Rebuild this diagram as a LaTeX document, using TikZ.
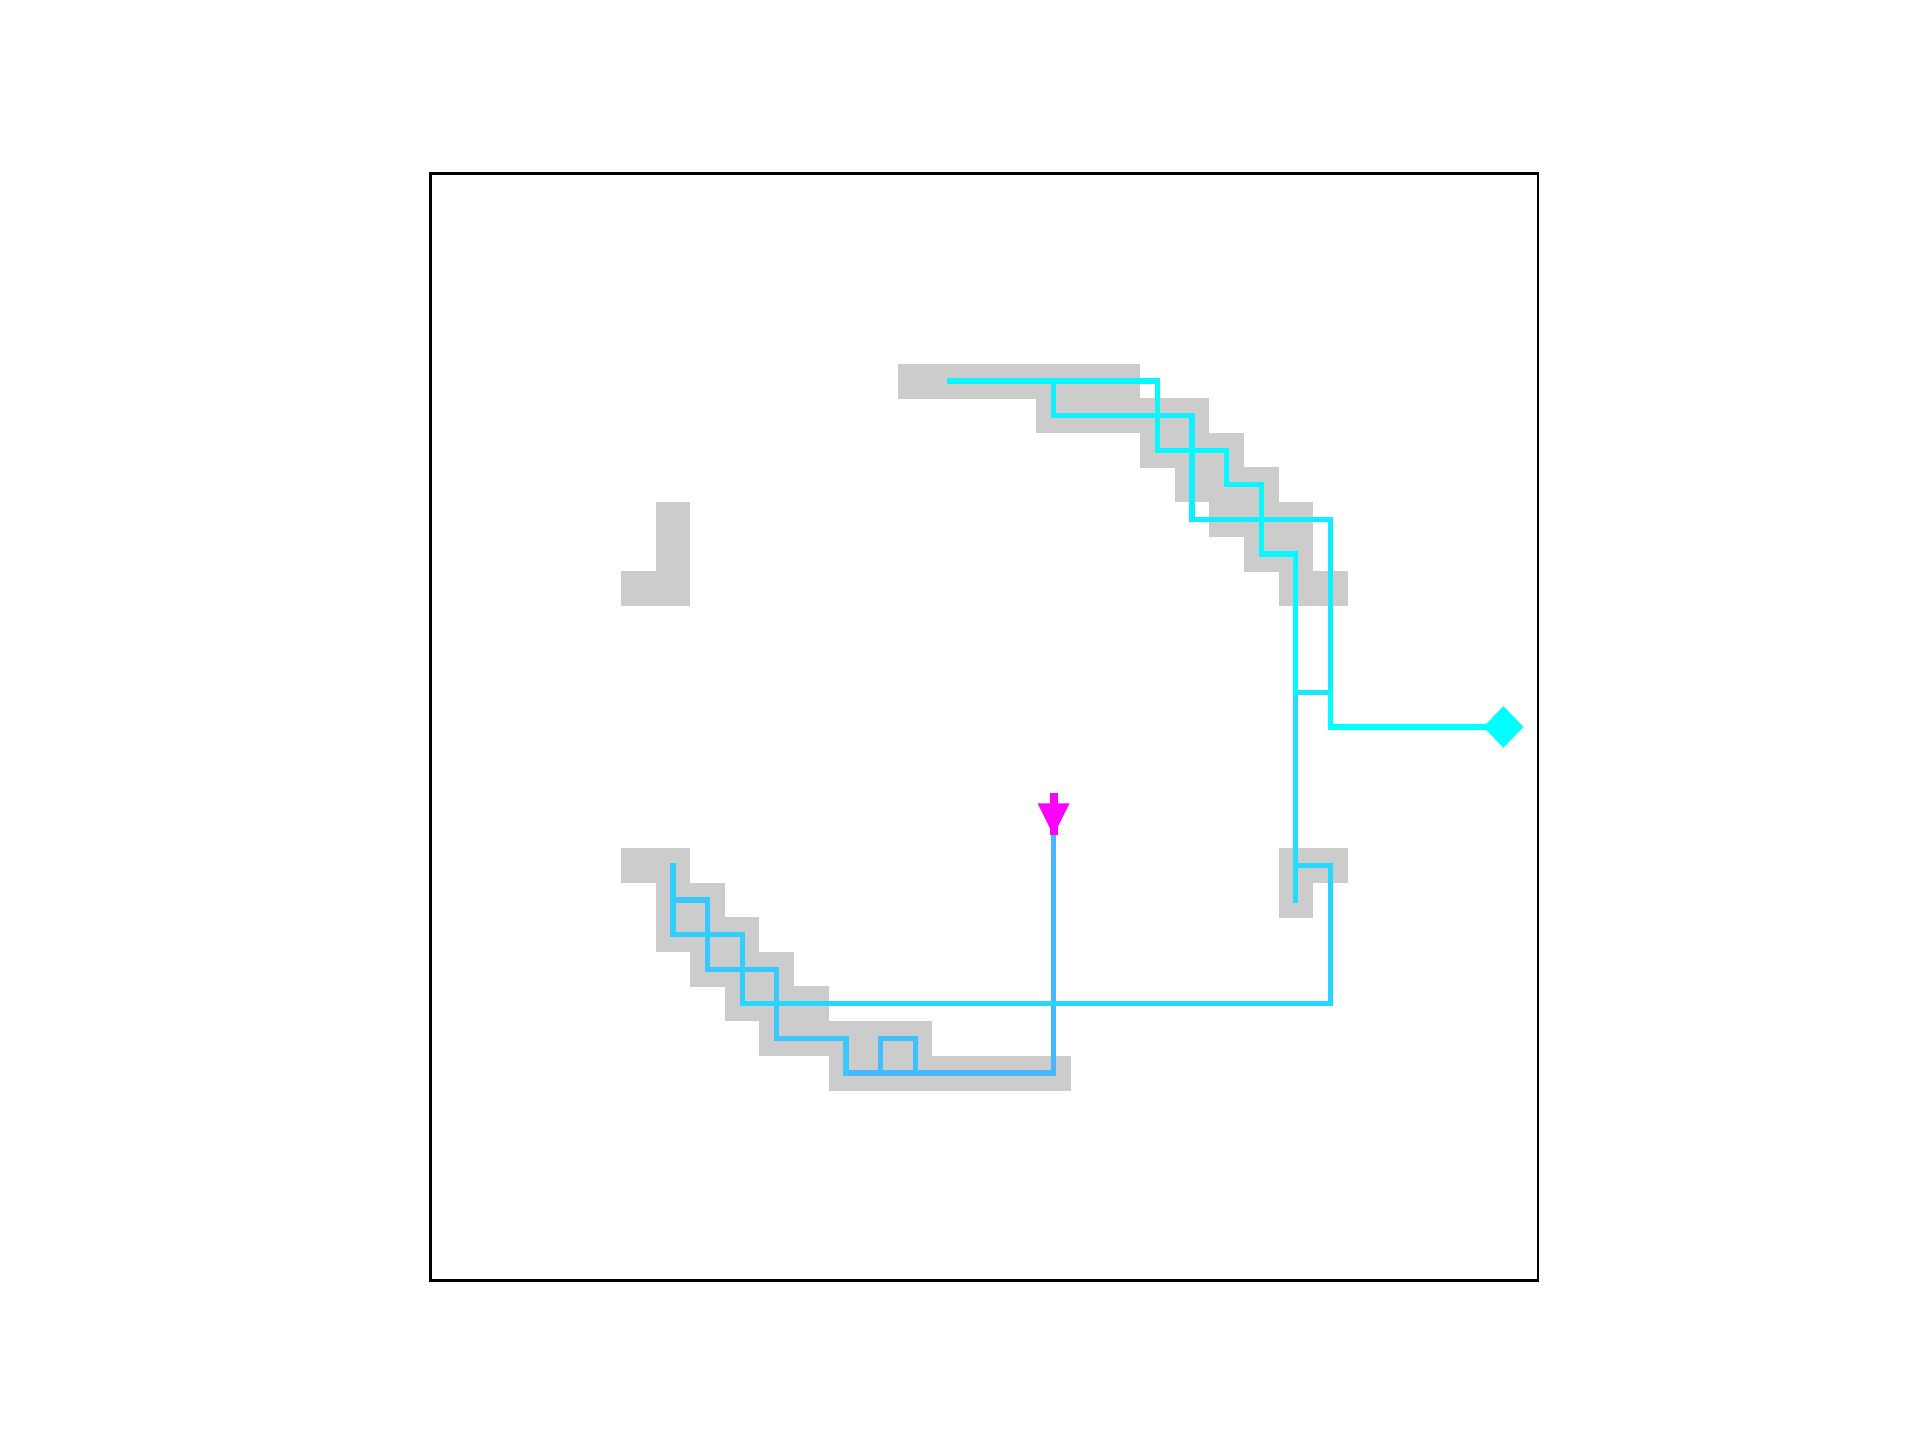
\documentclass[tikz,border=0pt]{standalone}
\definecolor{gridgray}{RGB}{204,204,204}
\definecolor{pA}{RGB}{71,184,255}
\definecolor{pB}{RGB}{64,191,255}
\definecolor{pC}{RGB}{56,199,255}
\definecolor{pD}{RGB}{48,207,255}
\definecolor{pE}{RGB}{41,214,255}
\definecolor{pF}{RGB}{33,222,255}
\definecolor{pG}{RGB}{26,230,255}
\definecolor{pH}{RGB}{18,237,255}
\definecolor{pI}{RGB}{8,247,255}
\definecolor{pJ}{RGB}{0,255,255}
\definecolor{startmag}{RGB}{255,0,255}
\begin{document}
\begin{tikzpicture}[x=0.5cm,y=-0.5cm,
  trail/.style={line width=2.18pt, line cap=rect, line join=miter},
  frameline/.style={line width=1.1pt, black}]
\useasboundingbox[fill=white] (-12.45,-5.01) rectangle (43.04,36.60);
% obstacle cells
\foreach \r/\a/\b in {6/14/20, 7/18/22, 8/21/23, 9/22/24, 10/23/25, 11/24/25, 12/25/26,
  10/7/7, 11/7/7, 12/6/7, 20/25/26, 21/25/25, 20/6/7, 21/7/8, 22/7/9, 23/8/10,
  24/9/11, 25/10/14, 26/12/18}
  \fill[gridgray] (\a-0.5,\r-0.5) rectangle (\b+0.5,\r+0.51);
% frame
\draw[frameline] (0,0) rectangle (32,32);
% named points
\coordinate (start) at (18,19);
\coordinate (goal) at (31,16);
% path segments
\draw[trail, pA] (start) -- (18,26) -- (12,26);
\draw[trail, pB] (14,26) -- (14,25) -- (13,25) -- (13,26);
\draw[trail, pC] (12,26) -- (12,25) -- (10,25) -- (10,23) -- (8,23) -- (8,21) -- (7,21);
\draw[trail, pD] (7,20) -- (7,22) -- (9,22) -- (9,24);
\draw[trail, pE] (9,24) -- (26,24) -- (26,20) -- (25,20);
\draw[trail, pF] (25,21) -- (25,15);
\draw[trail, pG] (25,15) -- (26,15);
\draw[trail, pH] (26,15) -- (26,10) -- (22,10) -- (22,7) -- (18,7) -- (18,6);
\draw[trail, pI] (15,6) -- (21,6) -- (21,8) -- (23,8) -- (23,9) -- (24,9) -- (24,11) -- (25,11) -- (25,15);
\draw[trail, pJ] (26,15) -- (26,16) -- (goal);
% goal marker
\fill[pJ] (30.42,16) -- (31,15.4) -- (31.58,16) -- (31,16.6) -- cycle;
% start marker
\fill[startmag] (17.54,18.21) -- (18.46,18.21) -- (18,19.13) -- cycle;
\draw[startmag, line width=3.3pt] (18,17.9) -- (18,19.13);
\end{tikzpicture}
\end{document}
